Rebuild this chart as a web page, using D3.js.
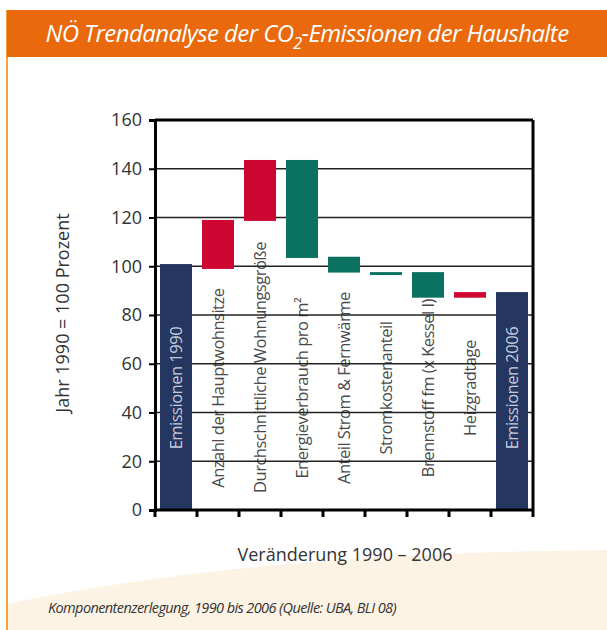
<!DOCTYPE html>
<html>
<head>
<meta charset="utf-8">
<script src="https://cdn.jsdelivr.net/npm/d3@7"></script>
<style>
  body { margin: 0; background: #fff; }
  svg { display: block; font-family: "Open Sans", sans-serif; }
</style>
</head>
<body>
<svg id="chart" width="607" height="630"></svg>
<script>
// waterfall components, 1990 = 100
const categories = [
  'Emissionen 1990', 'Anzahl der Hauptwohnsitze', 'Durchschnittliche Wohnungsgröße',
  'Energieverbrauch pro m²', 'Anteil Strom & Fernwärme', 'Stromkostenanteil',
  'Brennstoff fm (x Kessel I)', 'Heizgradtage', 'Emissionen 2006'
];
const barFrom = [0, 98.9, 118.6, 143.6, 103.9, 97.6, 97.6, 87.1, 0];
const barTo = [100.9, 119, 143.6, 103.4, 97.4, 96.4, 87.1, 89.4, 89.4];
const barKind = ['total', 'up', 'up', 'down', 'down', 'down', 'down', 'up', 'total'];
const yTicks = [0, 20, 40, 60, 80, 100, 120, 140, 160];

const colors = { total: '#253760', up: '#CE0732', down: '#0B7261' };

const svg = d3.select('#chart');
const margin = { top: 120, right: 74, bottom: 120, left: 155 };
const width = 607 - margin.left - margin.right,
  height = 630 - margin.top - margin.bottom;

// background: cream swoosh at the bottom
svg.append('path')
  .attr('d', 'M7,604 Q250,553 607,550 L607,630 L7,630 Z')
  .attr('fill', '#FDF3E4');

// left orange rule and header band
svg.append('rect').attr('x', 6).attr('y', 10).attr('width', 2).attr('height', 620).attr('fill', '#F2A33A');
svg.append('rect').attr('x', 7).attr('y', 10).attr('width', 600).attr('height', 47).attr('fill', '#E9690C');

const title = svg.append('text')
  .attr('x', 307).attr('y', 42)
  .attr('text-anchor', 'middle')
  .attr('fill', '#fff')
  .attr('font-size', 24)
  .attr('font-style', 'italic')
  .attr('letter-spacing', -0.6);
title.append('tspan').text('NÖ Trendanalyse der CO');
title.append('tspan').attr('dy', 7).attr('font-size', 16).text('2');
title.append('tspan').attr('dy', -7).text('-Emissionen der Haushalte');

const g = svg.append('g').attr('transform', `translate(${margin.left},${margin.top})`);

const x = d3.scaleBand().domain(categories).range([0, width])
  .paddingInner(0.238).paddingOuter(0.119);
const y = d3.scaleLinear().domain([0, 160]).range([height, 0]);

// rotated category labels; centred near 50, pushed up if they would reach the axis
function addLabels(sel) {
  sel.append('text')
    .attr('text-anchor', 'middle')
    .attr('font-size', 16.5)
    .attr('letter-spacing', -0.5)
    .attr('fill', d => barKind[categories.indexOf(d)] === 'total' ? '#C5CBDD' : '#4a4a4a')
    .text(d => d)
    .attr('transform', function (d) {
      const len = this.getComputedTextLength();
      const mid = Math.min(y(50), y(7) - len / 2);
      return `translate(${x(d) + x.bandwidth() / 2 + 6},${mid}) rotate(-90)`;
    });
}

const lblBack = g.append('g');
lblBack.selectAll('g')
  .data(categories.filter((d, i) => barKind[i] !== 'total'))
  .enter().append('g')
  .call(addLabels);

// gridlines
g.selectAll('.grid')
  .data(yTicks.filter(d => d > 0 && d < 160))
  .enter().append('line')
  .attr('x1', 0).attr('x2', width)
  .attr('y1', d => y(d)).attr('y2', d => y(d))
  .attr('stroke', '#222').attr('stroke-width', 1.5);

// bars
g.selectAll('.bar')
  .data(categories)
  .enter().append('rect')
  .attr('x', d => x(d))
  .attr('width', x.bandwidth())
  .attr('y', (d, i) => y(Math.max(barFrom[i], barTo[i])))
  .attr('height', (d, i) => Math.abs(y(barFrom[i]) - y(barTo[i])))
  .attr('fill', (d, i) => colors[barKind[i]]);

const lblFront = g.append('g');
lblFront.selectAll('g')
  .data(categories.filter((d, i) => barKind[i] === 'total'))
  .enter().append('g')
  .call(addLabels);

// frame
const frame = g.append('g').attr('stroke', '#000').attr('stroke-width', 3);
frame.append('line').attr('x1', 0).attr('x2', width).attr('y1', y(160)).attr('y2', y(160));
frame.append('line').attr('x1', width).attr('x2', width).attr('y1', y(160)).attr('y2', y(0));

// y axis
const yAxis = g.append('g')
  .call(d3.axisLeft(y).tickValues(yTicks).tickSize(6).tickPadding(7));
yAxis.select('.domain').attr('stroke-width', 3);
yAxis.selectAll('.tick line').attr('stroke-width', 2);
yAxis.selectAll('.tick text')
  .attr('font-size', 18).attr('fill', '#333')
  .attr('font-family', '"Open Sans", sans-serif');

// x axis: ticks on category boundaries
const xAxis = g.append('g').attr('transform', `translate(0,${height})`);
xAxis.append('line').attr('x1', 0).attr('x2', width).attr('stroke', '#000').attr('stroke-width', 3);
xAxis.selectAll('.xt')
  .data(categories.slice(1))
  .enter().append('line')
  .attr('x1', d => x(d) - x.step() * x.paddingInner() / 2)
  .attr('x2', d => x(d) - x.step() * x.paddingInner() / 2)
  .attr('y1', 0).attr('y2', 7)
  .attr('stroke', '#000').attr('stroke-width', 3);
xAxis.selectAll('.xe')
  .data([0, width])
  .enter().append('line')
  .attr('x1', d => d).attr('x2', d => d)
  .attr('y1', 0).attr('y2', 7)
  .attr('stroke', '#000').attr('stroke-width', 3);

// axis titles
svg.append('text')
  .attr('transform', 'translate(69,313) rotate(-90)')
  .attr('text-anchor', 'middle')
  .attr('font-size', 18).attr('fill', '#333')
  .text('Jahr 1990 = 100 Prozent');

svg.append('text')
  .attr('x', 345).attr('y', 561)
  .attr('text-anchor', 'middle')
  .attr('font-size', 18).attr('fill', '#333')
  .text('Veränderung 1990 – 2006');

svg.append('text')
  .attr('x', 48).attr('y', 613)
  .attr('font-size', 14.5).attr('font-style', 'italic').attr('fill', '#333')
  .attr('letter-spacing', -0.6)
  .text('Komponentenzerlegung, 1990 bis 2006 (Quelle: UBA, BLI 08)');
</script>
</body>
</html>
